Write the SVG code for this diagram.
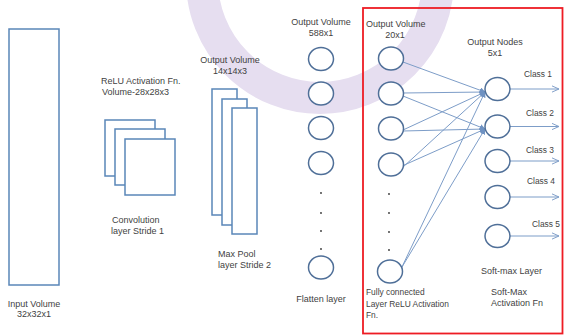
<svg xmlns="http://www.w3.org/2000/svg" width="564" height="335" viewBox="0 0 564 335">
  <style>
    .lbl { font-family: "Liberation Sans", Arial, sans-serif; font-size: 9px; fill: #3f3f3f; }
    .sm { font-size: 8.4px; }
    .mid { text-anchor: middle; }
    .box { fill: #ffffff; stroke: #5a86b8; stroke-width: 1.5; }
    .node { fill: #ffffff; stroke: #4f6f98; stroke-width: 1.5; }
    .wire { fill: none; stroke: #7d9dc8; stroke-width: 1; }
    .dot { fill: #333333; }
  </style>
  <defs>
    <marker id="tip" viewBox="0 0 10 10" refX="9" refY="5" markerWidth="6" markerHeight="6" markerUnits="userSpaceOnUse" orient="auto">
      <path d="M0,0 L10,5 L0,10 Z" fill="#6f92c2"/>
    </marker>
    <marker id="open" viewBox="0 0 10 10" refX="9" refY="5" markerWidth="8" markerHeight="8" markerUnits="userSpaceOnUse" orient="auto">
      <path d="M0,1 L9,5 L0,9" fill="none" stroke="#7d9dc8" stroke-width="1.2"/>
    </marker>
  </defs>

  <rect width="564" height="335" fill="#ffffff"/>

  <!-- background arc mark -->
  <circle cx="320" cy="-20" r="118" fill="none" stroke="#e6def0" stroke-width="32"/>

  <!-- input volume -->
  <g id="input">
    <rect class="box" x="9" y="29" width="50" height="256"/>
    <text class="lbl mid" x="34" y="307">Input Volume</text>
    <text class="lbl mid" x="34" y="317">32x32x1</text>
  </g>

  <!-- convolution layer -->
  <g id="conv">
    <text class="lbl" x="101" y="84">ReLU Activation Fn.</text>
    <text class="lbl" x="102" y="95">Volume-28x28x3</text>
    <rect class="box" x="105" y="120" width="50" height="56"/>
    <rect class="box" x="115" y="129" width="50" height="56"/>
    <rect class="box" x="125" y="139" width="50" height="56"/>
    <text class="lbl" x="112" y="223">Convolution</text>
    <text class="lbl" x="111" y="234">layer Stride 1</text>
  </g>

  <!-- max pool layer -->
  <g id="pool">
    <text class="lbl mid" x="230" y="63">Output Volume</text>
    <text class="lbl mid" x="230" y="74">14x14x3</text>
    <rect class="box" x="212" y="89" width="25" height="126"/>
    <rect class="box" x="222" y="99" width="25" height="126"/>
    <rect class="box" x="232" y="108" width="25" height="126"/>
    <text class="lbl" x="218" y="257">Max Pool</text>
    <text class="lbl" x="218" y="268">layer Stride  2</text>
  </g>

  <!-- flatten layer -->
  <g id="flatten">
    <text class="lbl mid" x="321" y="25">Output Volume</text>
    <text class="lbl mid" x="321" y="36">588x1</text>
    <ellipse class="node" cx="321" cy="59" rx="12.5" ry="11.5"/>
    <ellipse class="node" cx="321" cy="93.5" rx="12.5" ry="11.5"/>
    <ellipse class="node" cx="321" cy="128" rx="12.5" ry="11.5"/>
    <ellipse class="node" cx="321" cy="163" rx="12.5" ry="11.5"/>
    <circle class="dot" cx="321" cy="193" r="0.9"/>
    <circle class="dot" cx="321" cy="213" r="0.9"/>
    <circle class="dot" cx="321" cy="231" r="0.9"/>
    <circle class="dot" cx="321" cy="249" r="0.9"/>
    <ellipse class="node" cx="321" cy="267.5" rx="12.5" ry="11.5"/>
    <text class="lbl mid" x="321" y="302">Flatten layer</text>
  </g>

  <!-- highlighted fully connected + soft-max section -->
  <rect x="363" y="8" width="199.5" height="325.5" fill="none" stroke="#ee1c24" stroke-width="1.8"/>

  <!-- connectors -->
  <g id="connectors" class="wire">
    <line x1="403" y1="62" x2="485" y2="92" marker-end="url(#tip)"/>
    <line x1="403" y1="93" x2="485" y2="92" marker-end="url(#tip)"/>
    <line x1="403" y1="96" x2="485" y2="129" marker-end="url(#tip)"/>
    <line x1="403" y1="130" x2="485" y2="92" marker-end="url(#tip)"/>
    <line x1="403" y1="131" x2="485" y2="129" marker-end="url(#tip)"/>
    <line x1="402" y1="168" x2="485" y2="92" marker-end="url(#tip)"/>
    <line x1="402" y1="166" x2="485" y2="129" marker-end="url(#tip)"/>
    <line x1="401" y1="269" x2="485" y2="92" marker-end="url(#tip)"/>
    <line x1="402" y1="267" x2="485" y2="129" marker-end="url(#tip)"/>
    <line x1="510" y1="89" x2="559" y2="89" marker-end="url(#open)"/>
    <line x1="510" y1="126.5" x2="559" y2="126.5" marker-end="url(#open)"/>
    <line x1="510" y1="161" x2="559" y2="161" marker-end="url(#open)"/>
    <line x1="510" y1="197" x2="559" y2="197" marker-end="url(#open)"/>
    <line x1="510" y1="236" x2="559" y2="236" marker-end="url(#open)"/>
  </g>

  <!-- fully connected layer -->
  <g id="dense">
    <text class="lbl" x="366" y="27">Output Volume</text>
    <text class="lbl mid" x="395" y="38">20x1</text>
    <ellipse class="node" cx="391" cy="58.5" rx="12.5" ry="11.5"/>
    <ellipse class="node" cx="391" cy="93.5" rx="12.5" ry="11.5"/>
    <ellipse class="node" cx="391" cy="128.5" rx="12.5" ry="11.5"/>
    <ellipse class="node" cx="391" cy="164.5" rx="12.5" ry="11.5"/>
    <circle class="dot" cx="389" cy="194" r="0.9"/>
    <circle class="dot" cx="389" cy="213" r="0.9"/>
    <circle class="dot" cx="389" cy="232" r="0.9"/>
    <circle class="dot" cx="389" cy="250" r="0.9"/>
    <ellipse class="node" cx="390" cy="271.5" rx="12.5" ry="11.5"/>
    <text class="lbl sm" x="366" y="295">Fully connected</text>
    <text class="lbl sm" x="366" y="306.5">Layer ReLU Activation</text>
    <text class="lbl sm" x="366" y="317.5">Fn.</text>
  </g>

  <!-- soft-max output layer -->
  <g id="softmax">
    <text class="lbl mid" x="495" y="45">Output Nodes</text>
    <text class="lbl mid" x="495" y="56">5x1</text>
    <ellipse class="node" cx="497.5" cy="89" rx="12.5" ry="11.5"/>
    <ellipse class="node" cx="497.5" cy="126.5" rx="12.5" ry="11.5"/>
    <ellipse class="node" cx="497.5" cy="161" rx="12.5" ry="11.5"/>
    <ellipse class="node" cx="497.5" cy="197" rx="12.5" ry="11.5"/>
    <ellipse class="node" cx="497.5" cy="236" rx="12.5" ry="11.5"/>
    <text class="lbl sm" x="524" y="77">Class 1</text>
    <text class="lbl sm" x="526" y="116">Class 2</text>
    <text class="lbl sm" x="526" y="152.5">Class 3</text>
    <text class="lbl sm" x="527" y="184">Class 4</text>
    <text class="lbl sm" x="532" y="226.5">Class 5</text>
    <text class="lbl" x="481" y="274">Soft-max Layer</text>
    <text class="lbl" x="491" y="295">Soft-Max</text>
    <text class="lbl" x="491" y="306">Activation Fn</text>
  </g>
</svg>
